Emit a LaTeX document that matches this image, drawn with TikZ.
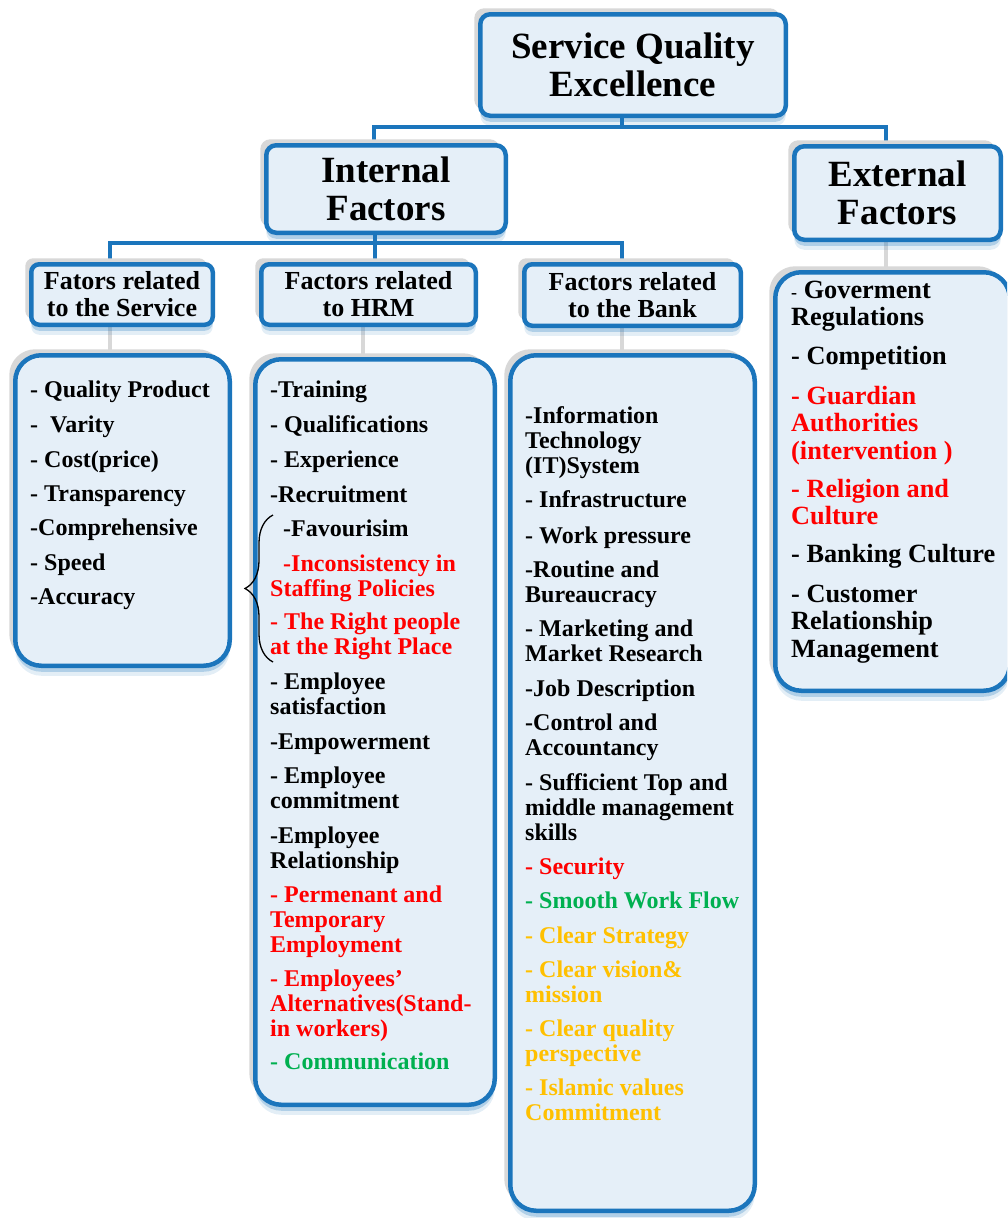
\documentclass[tikz,border=0pt]{standalone}
\usepackage{fontspec}
\setmainfont{Liberation Serif}
\usetikzlibrary{shadows,decorations.pathreplacing,backgrounds}
\definecolor{bblue}{HTML}{1B75BC}
\definecolor{bfill}{HTML}{E5EFF8}
\definecolor{sgray}{HTML}{D8D8D8}
\definecolor{tred}{HTML}{FF0000}
\definecolor{tgreen}{HTML}{00B050}
\definecolor{tgold}{HTML}{FFC000}
\newcommand{\tl}[1]{\begin{tabular}[t]{@{}l@{}}#1\end{tabular}}
\newcommand{\ftitle}{\fontsize{37}{37.5}\selectfont\bfseries}
\newcommand{\fhead}{\fontsize{26}{27}\selectfont\bfseries}
\newcommand{\flist}{\fontsize{24}{25}\selectfont\bfseries}
\newcommand{\fext}{\fontsize{26.3}{27.8}\selectfont\bfseries}
\begin{document}
\begin{tikzpicture}[x=1pt,y=-1pt,
  box/.style={draw=bblue, line width=4.5pt, fill=bfill, inner sep=0pt,
    general shadow={shadow xshift=-6pt, shadow yshift=6pt, fill=sgray, draw=none},
    general shadow={shadow yshift=-10pt, fill=bblue, fill opacity=0.12, draw=none},
    general shadow={shadow yshift=-6pt, fill=bblue, fill opacity=0.25, draw=none}},
  titlebox/.style={box, rounded corners=10pt, align=center, font=\ftitle},
  headbox/.style={box, rounded corners=8pt, align=center, font=\fhead},
  listbox/.style={box, rounded corners=26pt},
  conn/.style={draw=bblue, line width=4pt},
  gtick/.style={draw=sgray, line width=4pt},
  item/.style={inner sep=0pt, anchor=base west, font=\flist, text=black},
  eitem/.style={item, font=\fext},
  red/.style={text=tred}, grn/.style={text=tgreen}, gld/.style={text=tgold}]
\useasboundingbox (0,0) rectangle (1007,1218);
\clip (0,0) rectangle (1007,1218);

% level boxes
\node[titlebox, minimum width=305.5pt, minimum height=101.5pt] (top) at (633,65) {Service Quality\\Excellence};
\node[titlebox, minimum width=239.5pt, minimum height=87.5pt] (int) at (386,189) {Internal\\Factors};
\node[titlebox, minimum width=206.5pt, minimum height=93.5pt] (ext) at (897.5,193) {External\\Factors};

\node[headbox, minimum width=181.5pt, minimum height=60.5pt] (hS) at (122,294.5) {Fators related\\to the Service};
\node[headbox, minimum width=214.5pt, minimum height=60.5pt] (hH) at (368.5,294.5) {Factors related\\to HRM};
\node[headbox, minimum width=216.5pt, minimum height=61.5pt] (hB) at (632.5,295) {Factors related\\to the Bank};

\node[listbox, minimum width=214.5pt, minimum height=310.5pt] (lS) at (122.5,510.5) {};
\node[listbox, minimum width=239.5pt, minimum height=745.5pt] (lH) at (375,732) {};
\node[listbox, minimum width=244.5pt, minimum height=855.5pt] (lB) at (632.5,783) {};
\node[listbox, minimum width=234.5pt, minimum height=418.5pt] (lE) at (892.5,481.5) {};

% connectors
\coordinate (jT) at (622,127);
\coordinate (jL) at (374,127);
\coordinate (jR) at (886,127);
\coordinate (kL) at (110,243);
\coordinate (kM) at (375,243);
\coordinate (kR) at (622,243);
\coordinate (gH) at (363,243);
\begin{pgfonlayer}{background}
\fill[white] (0,0) rectangle (1007,1218);
\draw[gtick] (jR |- ext.south) -- (jR |- lE.north);
\draw[gtick] (kL |- hS.south) -- (kL |- lS.north);
\draw[gtick] (gH |- hH.south) -- (gH |- lH.north);
\draw[gtick] (kR |- hB.south) -- (kR |- lB.north);
\draw[conn] (jT |- top.south) -- (jT);
\draw[conn] (jL |- int.north) -- (jL) -- (jR) -- (jR |- ext.north);
\draw[conn] (kM |- int.south) -- (kM);
\draw[conn] (kL |- hS.north) -- (kL) -- (kR) -- (kR |- hB.north);
\draw[conn] (kM) -- (kM |- hH.north);
\end{pgfonlayer}

% Service list
\node[item] (s1) at (30,397) {- Quality Product};
\node[item] (s2) at (30,432) {- \ Varity};
\node[item] (s3) at (30,467) {- Cost(price)};
\node[item] (s4) at (30,501) {- Transparency};
\node[item] (s5) at (30,535) {-Comprehensive};
\node[item] (s6) at (30,570) {- Speed};
\node[item] (s7) at (30,604) {-Accuracy};

% HRM list
\node[item] (h1) at (270,397) {-Training};
\node[item] (h2) at (270,432) {- Qualifications};
\node[item] (h3) at (270,467) {- Experience};
\node[item] (h4) at (270,502) {-Recruitment};
\node[item] (h5) at (283,536) {-Favourisim};
\node[item, red] (h6) at (270,571) {\tl{\hspace{13pt}-Inconsistency in\\Staffing Policies}};
\node[item, red] (h7) at (270,629) {\tl{- The Right people\\at the Right Place}};
\node[item] (h8) at (270,689) {\tl{- Employee\\satisfaction}};
\node[item] (h9) at (270,749) {-Empowerment};
\node[item] (h10) at (270,783) {\tl{- Employee\\commitment}};
\node[item] (h11) at (270,843) {\tl{-Employee\\Relationship}};
\node[item, red] (h12) at (270,902) {\tl{- Permenant and\\Temporary\\Employment}};
\node[item, red] (h13) at (270,986) {\tl{- Employees'\\Alternatives(Stand-\\in workers)}};
\node[item, grn] (h14) at (270,1069) {- Communication};

\coordinate (brB) at (273,662);
\coordinate (brT) at (273,515);
\draw[decorate, decoration={brace, amplitude=28pt}, line width=1.3pt] (brB) -- (brT);

% Bank list
\node[item] (b1) at (525,423) {\tl{-Information\\Technology\\(IT)System}};
\node[item] (b2) at (525,507) {- Infrastructure};
\node[item] (b3) at (525,543) {- Work pressure};
\node[item] (b4) at (525,577) {\tl{-Routine and\\Bureaucracy}};
\node[item] (b5) at (525,636) {\tl{- Marketing and\\Market Research}};
\node[item] (b6) at (525,696) {-Job Description};
\node[item] (b7) at (525,730) {\tl{-Control and\\Accountancy}};
\node[item] (b8) at (525,790) {\tl{- Sufficient Top and\\middle management\\skills}};
\node[item, red] (b9) at (525,874) {- Security};
\node[item, grn] (b10) at (525,908) {- Smooth Work Flow};
\node[item, gld] (b11) at (525,943) {- Clear Strategy};
\node[item, gld] (b12) at (525,977) {\tl{- Clear vision\&\\mission}};
\node[item, gld] (b13) at (525,1036) {\tl{- Clear quality\\perspective}};
\node[item, gld] (b14) at (525,1095) {\tl{- Islamic values\\Commitment}};

% External list
\node[eitem] (e1) at (791,298) {\tl{{\fontsize{18}{20}\selectfont -} Goverment\\Regulations}};
\node[eitem] (e2) at (791,364) {- Competition};
\node[eitem, red] (e3) at (791,404) {\tl{- Guardian\\Authorities\\(intervention )}};
\node[eitem, red] (e4) at (791,497) {\tl{- Religion and\\Culture}};
\node[eitem] (e5) at (791,562) {- Banking Culture};
\node[eitem] (e6) at (791,602) {\tl{- Customer\\Relationship\\Management}};
\end{tikzpicture}
\end{document}
